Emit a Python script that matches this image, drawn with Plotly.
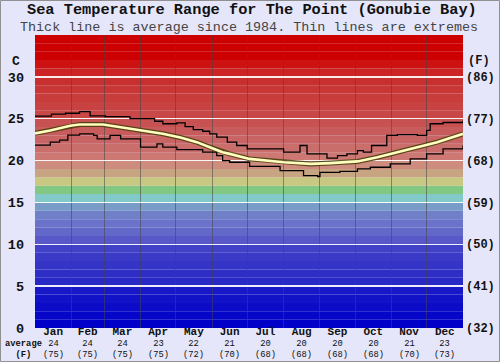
import plotly.graph_objects as go

# ---- data (day of year, temperature in C) ----
months = ["Jan", "Feb", "Mar", "Apr", "May", "Jun", "Jul", "Aug", "Sep", "Oct", "Nov", "Dec"]
month_avg_c = ["24", "24", "24", "23", "22", "21", "20", "20", "20", "20", "21", "23"]
month_avg_f = ["(75)", "(75)", "(75)", "(75)", "(72)", "(70)", "(68)", "(68)", "(68)", "(68)", "(70)", "(73)"]
month_starts = [0, 31, 59, 90, 120, 151, 181, 212, 243, 273, 304, 334, 365]

max_days = [0, 14, 26, 38, 47, 60, 81, 102, 109, 121, 128, 135, 143, 149, 155, 164, 172, 181,
            198, 212, 223, 226, 232, 243, 249, 258, 266, 275, 280, 287, 300, 309, 326, 334, 337, 348, 365]
max_temp = [25.3, 25.55, 25.65, 25.85, 25.35, 25.25, 25.0, 24.7, 24.4, 24.5, 24.05, 23.7, 23.5, 23.2, 22.8,
            22.2, 21.8, 21.4, 21.4, 21.0, 21.0, 21.8, 20.8, 20.8, 20.3, 20.6, 20.8, 21.2, 21.0, 21.8,
            23.0, 23.1, 23.0, 23.6, 24.4, 24.55, 24.75]

avg_days = [0, 13, 30, 38, 58, 70, 90, 109, 124, 138, 149, 160, 166, 183, 212, 235, 252, 275, 292, 309, 326, 343, 365]
avg_temp = [23.25, 23.6, 24.15, 24.3, 24.3, 24.05, 23.65, 23.2, 22.75, 22.2, 21.6, 21.0, 20.8, 20.2, 19.8,
            19.6, 19.7, 19.9, 20.4, 21.0, 21.6, 22.2, 23.2]

min_days = [0, 13, 21, 28, 38, 50, 53, 64, 73, 90, 104, 109, 121, 143, 155, 160, 166, 183, 209, 229,
            241, 243, 260, 275, 286, 303, 320, 334, 348, 365]
min_temp = [21.85, 22.2, 22.45, 23.05, 23.2, 23.0, 22.6, 23.0, 22.6, 21.6, 22.0, 21.6, 21.3, 21.0, 20.6,
            20.0, 19.8, 19.3, 18.8, 18.2, 18.1, 18.6, 18.7, 19.0, 19.2, 19.6, 20.2, 20.8, 21.4, 21.8]

# background band colours from 0 C upward (1 C each)
band_colors = [
    (0, 0, 200), (6, 6, 200), (12, 12, 200), (18, 18, 200), (24, 24, 200),
    (40, 40, 198), (46, 46, 198), (52, 52, 198), (58, 58, 198), (66, 66, 200),
    (88, 88, 200), (98, 104, 200), (106, 114, 202), (112, 128, 200), (120, 155, 200),
    (130, 202, 202), (130, 200, 130), (200, 200, 130), (200, 165, 130), (205, 140, 125),
    (205, 120, 115), (202, 110, 108), (200, 100, 100), (200, 92, 92), (200, 82, 82),
    (200, 72, 72), (200, 66, 66), (200, 60, 60), (200, 54, 54), (200, 48, 48),
    (204, 36, 36), (204, 18, 18), (204, 0, 0), (204, 0, 0), (204, 0, 0),
]

FONT = "Liberation Mono, Courier New, monospace"

fig = go.Figure()

shapes = []
for i, c in enumerate(band_colors):
    shapes.append(dict(type="rect", xref="x", yref="y", x0=0, x1=365, y0=i, y1=i + 1,
                       fillcolor="rgb(%d,%d,%d)" % c, line=dict(width=0), layer="below"))
# outer frame
W, H = 500, 362
l, r, t, b = 35, 37, 35, 34
pw, ph = W - l - r, H - t - b
shapes.append(dict(type="rect", xref="paper", yref="paper",
                   x0=(-l + 0.5) / pw, x1=1 + (r - 0.5) / pw,
                   y0=(-b + 0.5) / ph, y1=1 + (t - 0.5) / ph,
                   line=dict(color="#909090", width=1), layer="above"))

fig.add_trace(go.Scatter(x=max_days, y=max_temp, mode="lines", line=dict(color="black", width=1.3, shape="hv"),
                         hoverinfo="skip"))
fig.add_trace(go.Scatter(x=min_days, y=min_temp, mode="lines", line=dict(color="black", width=1.3, shape="hv"),
                         hoverinfo="skip"))
fig.add_trace(go.Scatter(x=avg_days, y=avg_temp, mode="lines", line=dict(color="rgba(70,60,10,0.85)", width=5),
                         hoverinfo="skip"))
fig.add_trace(go.Scatter(x=avg_days, y=avg_temp, mode="lines", line=dict(color="#ffffc0", width=2.6),
                         hoverinfo="skip"))
# invisible trace for the Fahrenheit axis
fig.add_trace(go.Scatter(x=[0], y=[32], yaxis="y2", mode="markers", marker=dict(opacity=0), hoverinfo="skip"))

mid = [(month_starts[i] + month_starts[i + 1]) / 2 for i in range(12)]

row_y = (H - b - 349.5) / ph
annotations = [
    dict(text="<b>Sea Temperature Range for The Point (Gonubie Bay)</b>", xref="paper", yref="paper",
         x=(252 - l) / pw, y=1 + (t - 10.5) / ph, xanchor="center", yanchor="middle", showarrow=False,
         font=dict(family=FONT, size=15.3, color="#111")),
    dict(text="Thick line is average since 1984. Thin lines are extremes", xref="paper", yref="paper",
         x=(249 - l) / pw, y=1 + (t - 27) / ph, xanchor="center", yanchor="middle", showarrow=False,
         font=dict(family=FONT, size=13.4, color="#444")),
    dict(text="<b>C</b>", xref="paper", yref="paper", x=(22 - l) / pw, y=(H - b - 61) / ph,
         xanchor="right", yanchor="middle", showarrow=False, font=dict(family=FONT, size=13, color="#111")),
    dict(text="<b>(F)</b>", xref="paper", yref="paper", x=(466 - l) / pw, y=(H - b - 61) / ph,
         xanchor="left", yanchor="middle", showarrow=False, font=dict(family=FONT, size=12, color="#111")),
    dict(text="<b>average<br>(F)</b>", xref="paper", yref="paper", x=(23 - l) / pw, y=row_y,
         xanchor="center", yanchor="middle", align="center", showarrow=False,
         font=dict(family=FONT, size=8.8, color="#111")),
]
for i in range(12):
    annotations.append(dict(text="%s<br>%s" % (month_avg_c[i], month_avg_f[i]), xref="x", yref="paper",
                            x=mid[i], y=row_y, xanchor="center", yanchor="middle", align="center",
                            showarrow=False, font=dict(family=FONT, size=8.8, color="#111")))

fig.update_layout(
    width=W, height=H,
    margin=dict(l=l, r=r, t=t, b=b, pad=0, autoexpand=False),
    paper_bgcolor="#e6e6fa",
    plot_bgcolor="#e6e6fa",
    showlegend=False,
    shapes=shapes,
    annotations=annotations,
    xaxis=dict(range=[0, 365], tickmode="array", tickvals=mid, ticktext=["<b>%s</b>" % m for m in months],
               showgrid=False, zeroline=False, ticks="", ticklen=0, ticklabelstandoff=-5, automargin=False,
               tickfont=dict(family=FONT, size=11, color="#111"),
               minor=dict(tickmode="array", tickvals=month_starts[1:-1], showgrid=True,
                          gridcolor="rgba(70,70,70,0.55)", gridwidth=1, ticks=""),
               fixedrange=True),
    yaxis=dict(range=[0, 35], tickmode="array", tickvals=[0, 5, 10, 15, 20, 25, 30],
               ticktext=["<b>%d</b>" % v for v in [0, 5, 10, 15, 20, 25, 30]],
               showgrid=True, gridcolor="rgba(255,255,255,0.9)", gridwidth=1.5, zeroline=False,
               ticks="", ticklabelstandoff=10, automargin=False,
               tickfont=dict(family=FONT, size=13.5, color="#111")),
    yaxis2=dict(range=[32, 95], overlaying="y", side="right", tickmode="array",
                tickvals=[32, 41, 50, 59, 68, 77, 86],
                ticktext=["<b>(%d)</b>" % v for v in [32, 41, 50, 59, 68, 77, 86]],
                showgrid=False, zeroline=False, ticks="", ticklabelstandoff=2, automargin=False,
                tickfont=dict(family=FONT, size=12, color="#111")),
)

fig.write_html("out.html", config={"displayModeBar": False, "staticPlot": True},
               post_script="document.body.style.margin='0';document.body.style.overflow='hidden';")
